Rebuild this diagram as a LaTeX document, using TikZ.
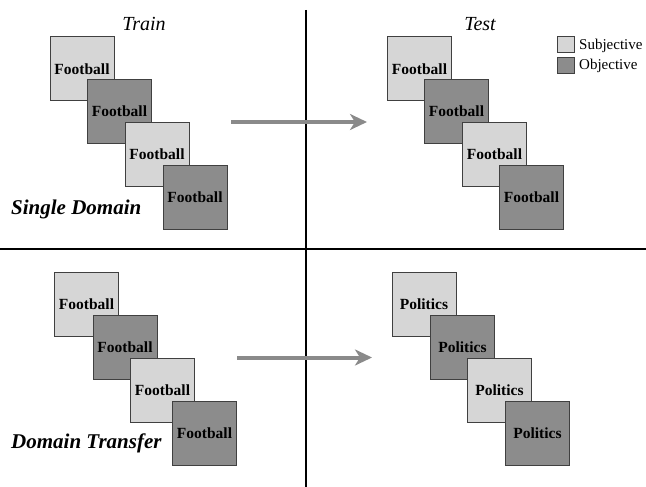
\documentclass[tikz,border=0pt]{standalone}
\usepackage{fontspec}
\setmainfont{Liberation Serif}
\usetikzlibrary{arrows.meta}
\definecolor{subj}{HTML}{D6D6D6}
\definecolor{obj}{HTML}{8C8C8C}
\definecolor{arr}{HTML}{8A8A8A}
\tikzset{
  doc/.style={draw=black!75, line width=1pt, minimum width=64pt, minimum height=64pt, inner sep=0pt, font=\fontsize{15.5}{16}\selectfont\bfseries},
  sbox/.style={doc, fill=subj},
  obox/.style={doc, fill=obj},
  head/.style={font=\fontsize{20}{22}\selectfont\itshape},
  lab/.style={font=\fontsize{21}{23}\selectfont\bfseries\itshape, anchor=west, inner sep=0pt},
  leg/.style={draw=black!75, line width=1pt, minimum width=17pt, minimum height=16pt, inner sep=0pt},
  legtxt/.style={font=\fontsize{15}{16}\selectfont, anchor=west, inner sep=0pt},
  bigarrow/.style={draw=arr, line width=4pt, -{Stealth[length=17pt,width=16pt,inset=5pt]}},
  divider/.style={draw=black, line width=1.3pt}
}
\begin{document}
\begin{tikzpicture}[x=1pt,y=-1pt]
\useasboundingbox (0,0) rectangle (646,487);
% dividers
\coordinate (vt) at (306,10);
\coordinate (vb) at (306,487);
\coordinate (hl) at (0,249);
\coordinate (hr) at (646,249);
\draw[divider] (vt) -- (vb);
\draw[divider] (hl) -- (hr);
% headings
\node[head] (train) at (144,24) {Train};
\node[head] (test) at (480,24) {Test};
% legend
\node[leg, fill=subj] (ls) at (565.5,45) {};
\node[leg, fill=obj] (lo) at (565.5,65.5) {};
\node[legtxt] (lst) at (579,46) {Subjective};
\node[legtxt] (lot) at (579,66) {Objective};
% top-left
\node[sbox] (a1) at (82,69) {Football};
\node[obox] (a2) at (119.5,111.5) {Football};
\node[sbox] (a3) at (157,154.5) {Football};
\node[obox] (a4) at (195,197) {Football};
\node[lab] (sd) at (11,209) {Single Domain};
% top-right
\node[sbox] (b1) at (419.5,69) {Football};
\node[obox] (b2) at (456.5,111.5) {Football};
\node[sbox] (b3) at (494.5,154.5) {Football};
\node[obox] (b4) at (531.5,197) {Football};
% bottom-left
\node[sbox] (c1) at (86.5,304.5) {Football};
\node[obox] (c2) at (125,347.5) {Football};
\node[sbox] (c3) at (162.5,390) {Football};
\node[obox] (c4) at (204.5,433.5) {Football};
\node[lab] (dt) at (11,443) {Domain Transfer};
% bottom-right
\node[sbox] (d1) at (424,304.5) {Politics};
\node[obox] (d2) at (462.5,347.5) {Politics};
\node[sbox] (d3) at (499.5,390) {Politics};
\node[obox] (d4) at (537.5,433.5) {Politics};
% arrows
\coordinate (t1) at (231,122);
\coordinate (t2) at (367,122);
\coordinate (u1) at (237,357.5);
\coordinate (u2) at (372,357.5);
\draw[bigarrow] (t1) -- (t2);
\draw[bigarrow] (u1) -- (u2);
\end{tikzpicture}
\end{document}
